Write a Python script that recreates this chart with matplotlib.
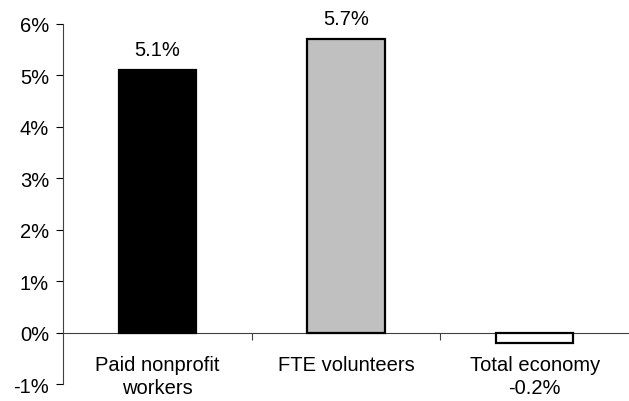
import numpy as np
import matplotlib.pyplot as plt
from matplotlib.ticker import FuncFormatter

categories = ['Paid nonprofit\nworkers', 'FTE volunteers', 'Total economy\n-0.2%']
values = [5.1, 5.7, -0.2]
value_labels = ['5.1%', '5.7%', '']
colors = ['#000000', '#c0c0c0', '#ffffff']

plt.rcParams['font.family'] = ['Liberation Sans', 'DejaVu Sans']

fig = plt.figure(figsize=(6.29, 4.02), dpi=100)
ax = fig.add_axes([0.1, 0.042, 0.9, 0.896])

x = np.arange(len(values))
bars = ax.bar(x, values, width=0.41, color=colors, edgecolor='black', linewidth=1.6, zorder=3)
for xi, v, lab in zip(x, values, value_labels):
    if lab:
        ax.text(xi, v + 0.22, lab, ha='center', va='bottom', fontsize=14.5)

ax.set_xlim(-0.5, 2.5)
ax.set_ylim(-1, 6)
ax.set_yticks(range(-1, 7))
ax.yaxis.set_major_formatter(FuncFormatter(lambda v, p: '%d%%' % v))
ax.tick_params(axis='y', direction='out', length=5, width=0.8, labelsize=14.5, pad=5)

ax.spines['top'].set_visible(False)
ax.spines['right'].set_visible(False)
ax.spines['bottom'].set_position(('data', 0))
ax.spines['bottom'].set_color('#404040')
ax.spines['left'].set_color('#404040')

ax.set_xticks([0.5, 1.5], minor=True)
ax.set_xticks(x)
ax.set_xticklabels(categories, fontsize=14.5, linespacing=1.25)
ax.tick_params(axis='x', which='major', length=0, pad=16)
ax.tick_params(axis='x', which='minor', direction='out', length=5, width=0.8, color='#404040')

fig.savefig('out.png', dpi=100)
